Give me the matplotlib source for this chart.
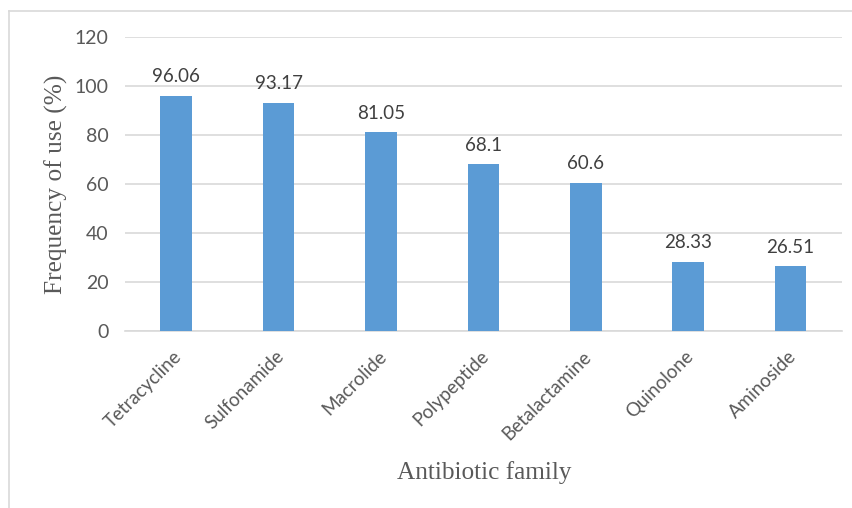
import matplotlib
matplotlib.use("Agg")
import matplotlib.pyplot as plt
from matplotlib.lines import Line2D
from matplotlib.transforms import ScaledTranslation

families = ["Tetracycline", "Sulfonamide", "Macrolide", "Polypeptide",
            "Betalactamine", "Quinolone", "Aminoside"]
usage = [96.06, 93.17, 81.05, 68.1, 60.6, 28.33, 26.51]
yticks = [0, 20, 40, 60, 80, 100, 120]

bar_color = "#5B9BD5"
text_color = "#595959"
grid_color = "#D9D9D9"

fig = plt.figure(figsize=(8.52, 5.08), dpi=100)
ax = fig.add_axes([0.1467, 0.3484, 0.8413, 0.5788])

x = list(range(len(families)))
bars = ax.bar(x, usage, width=0.31, color=bar_color, zorder=3)

for xi, v in zip(x, usage):
    ax.text(xi, v + 4.3, f"{v:g}", ha="center", va="bottom",
            fontsize=13.5, family="Lato", color="#404040")

ax.set_xlim(-0.5, len(families) - 0.5)
ax.set_ylim(0, 120)
ax.set_yticks(yticks)
ax.set_yticklabels([str(t) for t in yticks], family="Lato", fontsize=14,
                   color=text_color)
ax.set_xticks(x)
ax.set_xticklabels(families, rotation=45, ha="right", va="top",
                   rotation_mode="anchor", family="Lato", fontsize=13.5,
                   color=text_color)
ax.tick_params(axis="y", length=0, pad=12)
ax.tick_params(axis="x", length=0, pad=10)

# nudge rotated category labels so they end just right of each bar centre
shift = ScaledTranslation(-2.5 / 72, -2 / 72, fig.dpi_scale_trans)
for lbl in ax.get_xticklabels():
    lbl.set_transform(lbl.get_transform() + shift)

ax.grid(axis="y", color=grid_color, linewidth=1.2, zorder=0)
for s in ["top", "right", "left"]:
    ax.spines[s].set_visible(False)
ax.spines["bottom"].set_color(grid_color)
ax.spines["bottom"].set_linewidth(1.2)

ax.set_ylabel("Frequency of use (%)", family="Liberation Serif",
              fontsize=18.3, color=text_color)
ax.yaxis.set_label_coords(-0.080, 0.5)
fig.text(0.5687, 0.069, "Antibiotic family", family="Liberation Serif",
         fontsize=18.2, color=text_color, ha="center", va="center")

# thin frame along the left and top edges
fig.add_artist(Line2D([0.0106, 0.0106], [0.0, 0.979], transform=fig.transFigure,
                      color="#D9D9D9", linewidth=1.2))
fig.add_artist(Line2D([0.0106, 1.0], [0.979, 0.979], transform=fig.transFigure,
                      color="#D9D9D9", linewidth=1.2))

fig.savefig("out.png", dpi=100, facecolor="white")
